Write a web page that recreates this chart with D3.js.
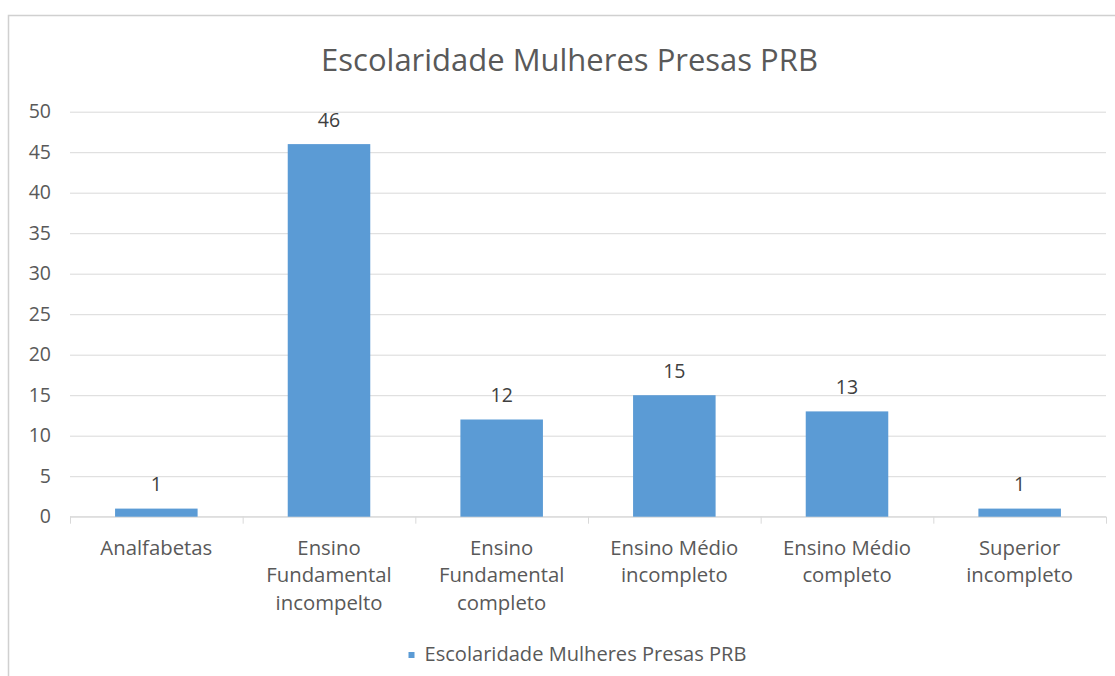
<!DOCTYPE html>
<html>
<head>
<meta charset="utf-8">
<script src="https://cdn.jsdelivr.net/npm/d3@7"></script>
<style>
  html, body { margin: 0; padding: 0; background: #ffffff; }
  svg { display: block; }
  text { font-family: "Open Sans", sans-serif; }
</style>
</head>
<body>
<svg id="chart" width="1115" height="676"></svg>
<script>
// ---- data ----
const title = "Escolaridade Mulheres Presas PRB";
const seriesName = "Escolaridade Mulheres Presas PRB";
const categories = [
  ["Analfabetas"],
  ["Ensino", "Fundamental", "incompelto"],
  ["Ensino", "Fundamental", "completo"],
  ["Ensino Médio", "incompleto"],
  ["Ensino Médio", "completo"],
  ["Superior", "incompleto"]
];
const values = [1, 46, 12, 15, 13, 1];
const yTicks = [0, 5, 10, 15, 20, 25, 30, 35, 40, 45, 50];

// ---- layout ----
const W = 1115, H = 676;
const plot = { left: 70, right: 1106, top: 111.7, bottom: 516.7 };
const textColor = "#595959";
const gridColor = "#D9D9D9";
const barColor = "#5B9BD5";

const svg = d3.select("#chart");

// chart border
svg.append("rect")
  .attr("x", 8.5).attr("y", 15.5)
  .attr("width", W + 20).attr("height", H + 20)
  .attr("fill", "#ffffff")
  .attr("stroke", "#D0D0D0").attr("stroke-width", 1.5);

const idx = categories.map((d, i) => i);
const x = d3.scaleBand().domain(idx).range([plot.left, plot.right])
  .paddingInner(0.522).paddingOuter(0.261);
const y = d3.scaleLinear().domain([0, 50]).range([plot.bottom, plot.top]);

function fitWidth(sel, target) {
  const w = sel.node().getComputedTextLength();
  const fs = parseFloat(sel.attr("font-size"));
  sel.attr("font-size", fs * target / w);
  return fs * target / w;
}

// gridlines + y tick labels
const yAxis = d3.axisLeft(y).tickValues(yTicks).tickSize(-(plot.right - plot.left)).tickPadding(19);
const gy = svg.append("g").attr("transform", `translate(${plot.left},0)`).call(yAxis);
gy.select(".domain").remove();
gy.selectAll(".tick line").attr("stroke", gridColor).attr("stroke-width", 1);
gy.selectAll(".tick text")
  .attr("fill", textColor).attr("font-size", 19.5)
  .attr("font-family", "Open Sans, sans-serif");

// x axis with category boundary ticks
const xAxis = d3.axisBottom(d3.scaleLinear().domain([0, categories.length]).range([plot.left, plot.right]))
  .tickValues(d3.range(0, categories.length + 1)).tickSize(7).tickFormat("");
const gx = svg.append("g").attr("transform", `translate(0,${plot.bottom})`).call(xAxis);
gx.select(".domain").attr("stroke", gridColor).attr("d", `M${plot.left},0H${plot.right}`);
gx.selectAll(".tick line").attr("stroke", gridColor);

// bars
svg.append("g").selectAll("rect").data(values).join("rect")
  .attr("x", (d, i) => x(i))
  .attr("width", x.bandwidth())
  .attr("y", d => y(d))
  .attr("height", d => y(0) - y(d))
  .attr("fill", barColor);

// data labels
svg.append("g").selectAll("text").data(values).join("text")
  .attr("x", (d, i) => x(i) + x.bandwidth() / 2)
  .attr("y", d => y(d) - 17.5)
  .attr("text-anchor", "middle")
  .attr("fill", "#404040")
  .attr("font-size", 19.5)
  .text(d => d);

// category labels
const catG = svg.append("g");
const catText = catG.selectAll("text").data(categories).join("text")
  .attr("x", (d, i) => x(i) + x.bandwidth() / 2)
  .attr("y", 554.5)
  .attr("text-anchor", "middle")
  .attr("fill", textColor)
  .attr("font-size", 18);
catText.each(function(lines, i) {
  const t = d3.select(this);
  const cx = x(i) + x.bandwidth() / 2;
  lines.forEach((ln, k) => {
    t.append("tspan").attr("x", cx).attr("dy", k === 0 ? 0 : 27.5).text(ln);
  });
});
const probe = svg.append("text").attr("font-size", 18).text(categories[0][0]);
const catFs = fitWidth(probe, 112);
probe.remove();
catText.attr("font-size", catFs);

// title
const tt = svg.append("text")
  .attr("x", 569.5).attr("y", 71)
  .attr("text-anchor", "middle")
  .attr("fill", textColor)
  .attr("font-size", 28)
  .text(title);
fitWidth(tt, 497);

// legend
svg.append("rect")
  .attr("x", 408.5).attr("y", 652).attr("width", 6).attr("height", 6)
  .attr("fill", barColor);
const lt = svg.append("text")
  .attr("x", 424.5).attr("y", 661)
  .attr("fill", textColor)
  .attr("font-size", 16)
  .text(seriesName);
fitWidth(lt, 322);
</script>
</body>
</html>
